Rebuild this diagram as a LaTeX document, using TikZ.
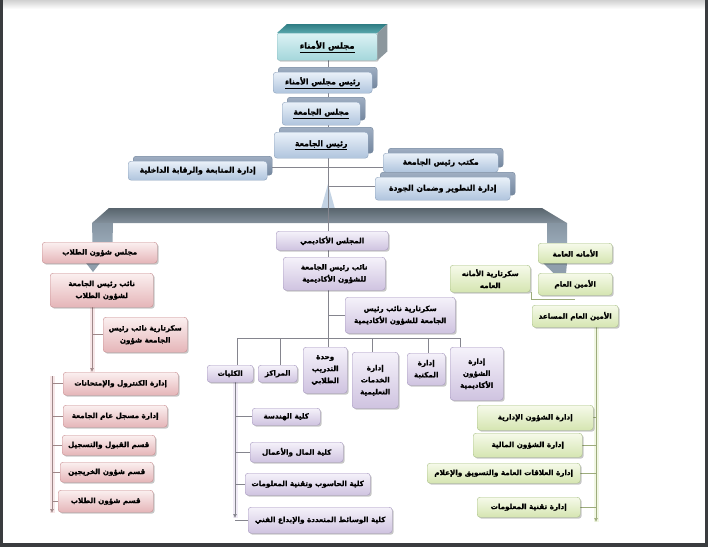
\documentclass[tikz,border=0pt]{standalone}
\usepackage{fontspec}
\newfontfamily\ar[Script=Arabic,FakeBold=1.2]{DejaVu Sans Bold}
\TeXXeTstate=1
\usetikzlibrary{shadows,backgrounds,arrows.meta}
\newcommand\R[1]{\beginR #1\endR}
\newcommand\bx[6]{\node[#1,minimum width=#4,minimum height=#5] (#2) at (#3) {#6};}
\definecolor{bT}{HTML}{EAF1F9}\definecolor{bB}{HTML}{AFC4DD}\definecolor{bD}{HTML}{8DA2BC}
\definecolor{kT}{HTML}{9FAEC2}\definecolor{kB}{HTML}{74879F}\definecolor{kD}{HTML}{72849A}
\definecolor{tT}{HTML}{DCF2F4}\definecolor{tB}{HTML}{A4D7DB}\definecolor{tD}{HTML}{8CBFC4}
\definecolor{tTop}{HTML}{2E7C83}\definecolor{tTop2}{HTML}{5AA7AC}\definecolor{tSide}{HTML}{8C979D}
\definecolor{pT}{HTML}{FBF0F0}\definecolor{pB}{HTML}{E5B5B8}\definecolor{pD}{HTML}{C98E91}
\definecolor{uT}{HTML}{F5F2FA}\definecolor{uB}{HTML}{CFC3E0}\definecolor{uD}{HTML}{A697BF}
\definecolor{gT}{HTML}{F6FAEA}\definecolor{gB}{HTML}{D5E5B1}\definecolor{gD}{HTML}{ABC288}
\definecolor{lnC}{HTML}{85858E}\definecolor{lnP}{HTML}{A08889}\definecolor{lnG}{HTML}{9DAC7C}
\definecolor{bandT}{HTML}{58646D}\definecolor{bandB}{HTML}{83909B}\definecolor{legC}{HTML}{A8BACA}
\definecolor{vC}{HTML}{C3D3E4}\definecolor{frameC}{HTML}{3A3C3F}
\begin{document}
\begin{tikzpicture}[x=1pt,y=-1pt,
 box/.style={anchor=north west,rounded corners=3pt,line width=0.4pt,align=center,inner sep=1pt,
   font=\ar\fontsize{7.2}{12}\selectfont},
 shd/.style={drop shadow={shadow xshift=1.5pt,shadow yshift=-1.5pt,fill=black,opacity=.22}},
 pk/.style={box,shd,draw=pD,top color=pT,bottom color=pB},
 pu/.style={box,shd,draw=uD,top color=uT,bottom color=uB},
 gr/.style={box,shd,draw=gD,top color=gT,bottom color=gB},
 bl/.style={box,general shadow={shadow xshift=5pt,shadow yshift=5pt,top color=kT,bottom color=kB,draw=kD},
   draw=bD,top color=bT,bottom color=bB,font=\ar\fontsize{7.8}{9}\selectfont},
 tealbox/.style={box,shd,rounded corners=1.5pt,draw=tD,top color=tT,bottom color=tB,font=\ar\fontsize{8.4}{9}\selectfont},
 ln/.style={draw=lnC,line width=0.7pt},
 lnp/.style={draw=lnP,line width=0.7pt},
 lng/.style={draw=lnG,line width=0.7pt},
 tip/.style={-{Latex[length=4pt,width=4pt]}},
 glowP/.style={draw=pT!60!pB,line width=5pt,opacity=.6},
 glowG/.style={draw=gT!60!gB,line width=5pt,opacity=.6},
 glowU/.style={draw=uT!60!uB,line width=5pt,opacity=.6}]
\useasboundingbox (0,0) rectangle (708,547);

% ---------- top block ----------
\bx{tealbox}{tb}{277,33}{100}{27}{\underline{\R{مجلس الأمناء}}}
\shade[top color=tTop,bottom color=tTop2] (tb.north west) -- ([shift={(10,-9)}]tb.north west) -- ([shift={(10,-9)}]tb.north east) -- (tb.north east) -- cycle;
\fill[tSide] (tb.north east) -- ([shift={(10,-9)}]tb.north east) -- ([shift={(10,-9)}]tb.south east) -- (tb.south east) -- cycle;
\bx{bl}{p1}{273,72}{99}{21}{\underline{\R{رئيس مجلس الأمناء}}}
\bx{bl}{p2}{282,102}{78}{23}{\underline{\R{مجلس الجامعة}}}
\bx{bl}{p3}{274,132}{94}{26}{\underline{\R{رئيس الجامعة}}}
\bx{bl}{p4}{128,161}{139}{19}{\R{إدارة المتابعة والرقابة الداخلية}}
\bx{bl}{p5}{383,153}{115}{19}{\R{مكتب رئيس الجامعة}}
\bx{bl}{p6}{375,177}{135}{23}{\R{إدارة التطوير وضمان الجودة}}

% ---------- left (students) ----------
\bx{pk}{s1}{42,242}{115}{21}{\R{مجلس شؤون الطلاب}}
\bx{pk}{s2}{50,273}{103}{34}{\R{نائب رئيس الجامعة}\\\R{لشؤون الطلاب}}
\bx{pk}{s3}{103,317}{84}{35}{\R{سكرتارية نائب رئيس}\\\R{الجامعة شؤون}}
\bx{pk}{s4}{63,372}{115}{23}{\R{إدارة الكنترول والإمتحانات}}
\bx{pk}{s5}{63,405}{104}{22}{\R{إدارة مسجل عام الجامعة}}
\bx{pk}{s6}{62,435}{93}{20}{\R{قسم القبول والتسجيل}}
\bx{pk}{s7}{60,462}{93}{20}{\R{قسم شؤون الخريجين}}
\bx{pk}{s8}{58,490}{95}{22}{\R{قسم شؤون الطلاب}}

% ---------- middle (academic) ----------
\bx{pu}{a0}{276,231}{112}{19}{\R{المجلس الأكاديمي}}
\bx{pu}{a1}{283,257}{102}{33}{\R{نائب رئيس الجامعة}\\\R{للشؤون الأكاديمية}}
\bx{pu}{a2}{345,297}{110}{36}{\R{سكرتارية نائب رئيس}\\\R{الجامعة للشؤون الأكاديمية}}
\bx{pu}{a3}{207,365}{46}{17}{\R{الكليات}}
\bx{pu}{a4}{258,365}{39}{17}{\R{المراكز}}
\bx{pu}{a5}{303,347}{44}{46}{\R{وحدة}\\\R{التدريب}\\\R{الطلابي}}
\bx{pu}{a6}{352,352}{46}{56}{\R{إدارة}\\\R{الخدمات}\\\R{التعليمية}}
\bx{pu}{a7}{407,353}{38}{32}{\R{إدارة}\\\R{المكتبة}}
\bx{pu}{a8}{450,347}{53}{53}{\R{إدارة}\\\R{الشؤون}\\\R{الأكاديمية}}
\bx{pu}{c1}{252,408}{68}{17}{\R{كلية الهندسة}}
\bx{pu}{c2}{250,442}{93}{20}{\R{كلية المال والأعمال}}
\bx{pu}{c3}{245,473}{125}{22}{\R{كلية الحاسوب وتقنية المعلومات}}
\bx{pu}{c4}{248,507}{144}{26}{\R{كلية الوسائط المتعددة والإبداع الفني}}

% ---------- right (secretariat) ----------
\bx{gr}{g1}{538,243}{74}{20}{\R{الأمانه العامة}}
\bx{gr}{g2}{450,265}{80}{27}{\R{سكرتارية الأمانه}\\\R{العامه}}
\bx{gr}{g3}{538,273}{74}{22}{\R{الأمين العام}}
\bx{gr}{g4}{532,305}{86}{22}{\R{الأمين العام المساعد}}
\bx{gr}{g5}{477,405}{116}{25}{\R{إدارة الشؤون الإدارية}}
\bx{gr}{g6}{473,433}{109}{24}{\R{إدارة الشؤون المالية}}
\bx{gr}{g7}{427,463}{153}{20}{\R{إدارة العلاقات العامة والتسويق والإعلام}}
\bx{gr}{g8}{477,497}{103}{20}{\R{إدارة تقنية المعلومات}}

\begin{pgfonlayer}{background}
 \fill[white] (0,0) rectangle (708,547);
 \shade[top color=black!18,bottom color=white] (3,0) rectangle (705,9);
 \fill[frameC] (0,0) rectangle (3,547);
 \fill[frameC] (705,0) rectangle (708,547);
 \fill[frameC] (0,543) rectangle (708,547);
 % band
 \fill[vC] (321,209) -- (328,184) -- (335,209) -- cycle;
 \shade[top color=bandT,bottom color=bandB] (109,208) -- (542,208) -- (567,223) -- (92,223) -- cycle;
 \shade[top color=legC!80!black,bottom color=legC] (92,223) -- (113,223) -- (112,262) -- (93,262) -- cycle;
 \fill[legC!85!black] (86,263) -- (100,263) -- (93,272) -- cycle;
 \shade[top color=legC!80!black,bottom color=legC] (547,223) -- (567,223) -- (567,262) -- (547,262) -- cycle;
 \fill[legC!85!black] (543,263) -- (567,263) -- (565,284) -- cycle;
 % top connectors
 \coordinate (topc) at (328,60);
 \coordinate (bandc) at (328,209);
 \draw[ln] (topc) -- (bandc);
 \coordinate (h1) at (328,167);
 \draw[ln] (h1 -| p4.east) -- (h1 -| p5.west);
 \coordinate (h2) at (328,186);
 \draw[ln] (h2) -- (h2 -| p6.west);
 % academic
 \draw[ln] (bandc) -- (bandc |- a1.north);
 \coordinate (mb) at (328,338);
 \draw[ln] (bandc |- a1.south) -- (mb);
 \draw[ln] (mb |- a2.west) -- (a2.west);
 \coordinate (d1) at (237,338); \coordinate (d2) at (280,338);
 \coordinate (d3) at (328,338); \coordinate (d4) at (372,338);
 \coordinate (d5) at (428,338); \coordinate (d6) at (460,338);
 \draw[ln] (d1) -- (d6);
 \draw[ln] (d1) -- (d1 |- a3.north);
 \draw[ln] (d2) -- (d2 |- a4.north);
 \draw[ln] (d3) -- (d3 |- a5.north);
 \draw[ln] (d4) -- (d4 |- a6.north);
 \draw[ln] (d5) -- (d5 |- a7.north);
 \draw[ln] (d6) -- (d6 |- a8.north);
 \coordinate (ct) at (235,382); \coordinate (cb) at (235,518);
 \draw[glowU] (ct) -- (cb);
 \draw[ln,tip] (ct) -- (cb);
 \foreach \n in {c1,c2,c3,c4} \draw[ln] (\n.west) -- (\n.west -| ct);
 % students
 \coordinate (lv) at (92,307);
 \draw[glowP] (lv) -- (lv |- s4.north);
 \draw[lnp,tip] (lv) -- (lv |- s4.north);
 \draw[lnp] (lv |- s3.west) -- (s3.west);
 \coordinate (lt) at (52,376); \coordinate (lb) at (52,513);
 \draw[glowP] (lt) -- (lb);
 \draw[lnp,tip] (lt) -- (lb);
 \foreach \n in {s4,s5,s6,s7,s8} \draw[lnp] (\n.west) -- (\n.west -| lt);
 % secretariat
 \coordinate (rt) at (596,327); \coordinate (rb) at (596,522);
 \draw[glowG] (rt) -- (rb);
 \draw[lng,tip] (rt) -- (rb);
 \foreach \n in {g5,g6,g7,g8} \draw[lng] (\n.east) -- (\n.east -| rt);
 \coordinate (gs) at (531,299);
 \draw[lng] (gs |- g2.south) -- (gs) -- (gs -| g4.north);
\end{pgfonlayer}
\end{tikzpicture}
\end{document}
